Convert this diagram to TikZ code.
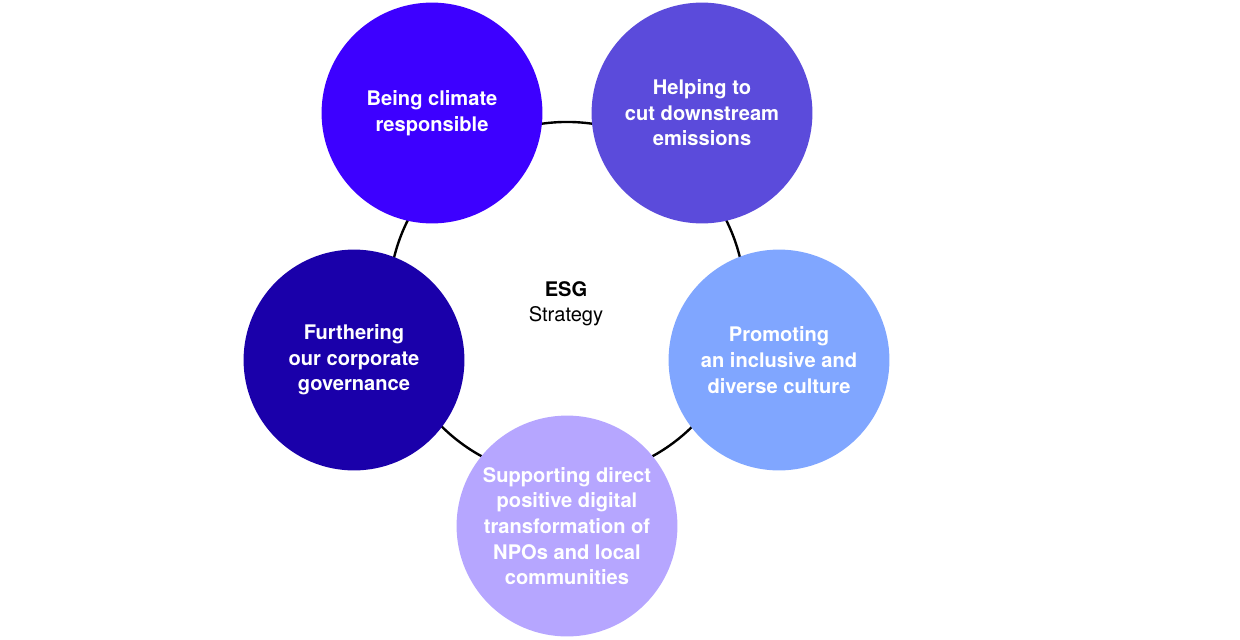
\documentclass[tikz,border=0pt]{standalone}
\usepackage{fontspec}
\setmainfont{TeX Gyre Heros}
\usetikzlibrary{positioning}

\definecolor{climateblue}{HTML}{3D00FF}
\definecolor{emissionviolet}{HTML}{5B4BDB}
\definecolor{cultureblue}{HTML}{80A6FF}
\definecolor{digitallilac}{HTML}{B6A6FF}
\definecolor{govnavy}{HTML}{1A00AA}

\begin{document}
\begin{tikzpicture}[
  x=0.025cm, y=-0.025cm,
  pillar/.style={circle, minimum size=5.52cm, inner sep=0pt, align=center,
    text=white, font=\fontsize{14.3}{18.2}\selectfont\bfseries},
  ring/.style={draw=black, line width=1.7pt}
]
\useasboundingbox (0,0) rectangle (1240,639);

% the strategy ring behind the pillars
\coordinate (hub) at (567,300);
\draw[ring] (hub) circle (4.45cm);

% centre label
\node[align=center, font=\fontsize{14.3}{17.9}\selectfont] (esg) at (566,304)
  {\textbf{ESG}\\Strategy};

% five pillars around the ring
\node[pillar, fill=climateblue] (climate) at (432,113) {Being climate\\responsible};
\node[pillar, fill=emissionviolet] (emissions) at (702,113) {Helping to\\cut downstream\\emissions};
\node[pillar, fill=cultureblue] (culture) at (779,360) {Promoting\\an inclusive and\\diverse culture};
\node[pillar, fill=digitallilac] (digital) at (567,526)
  {Supporting direct\\positive digital\\transformation of\\NPOs and local\\communities};
\node[pillar, fill=govnavy] (governance) at (354,360) {Furthering\\our corporate\\governance};

\end{tikzpicture}
\end{document}
